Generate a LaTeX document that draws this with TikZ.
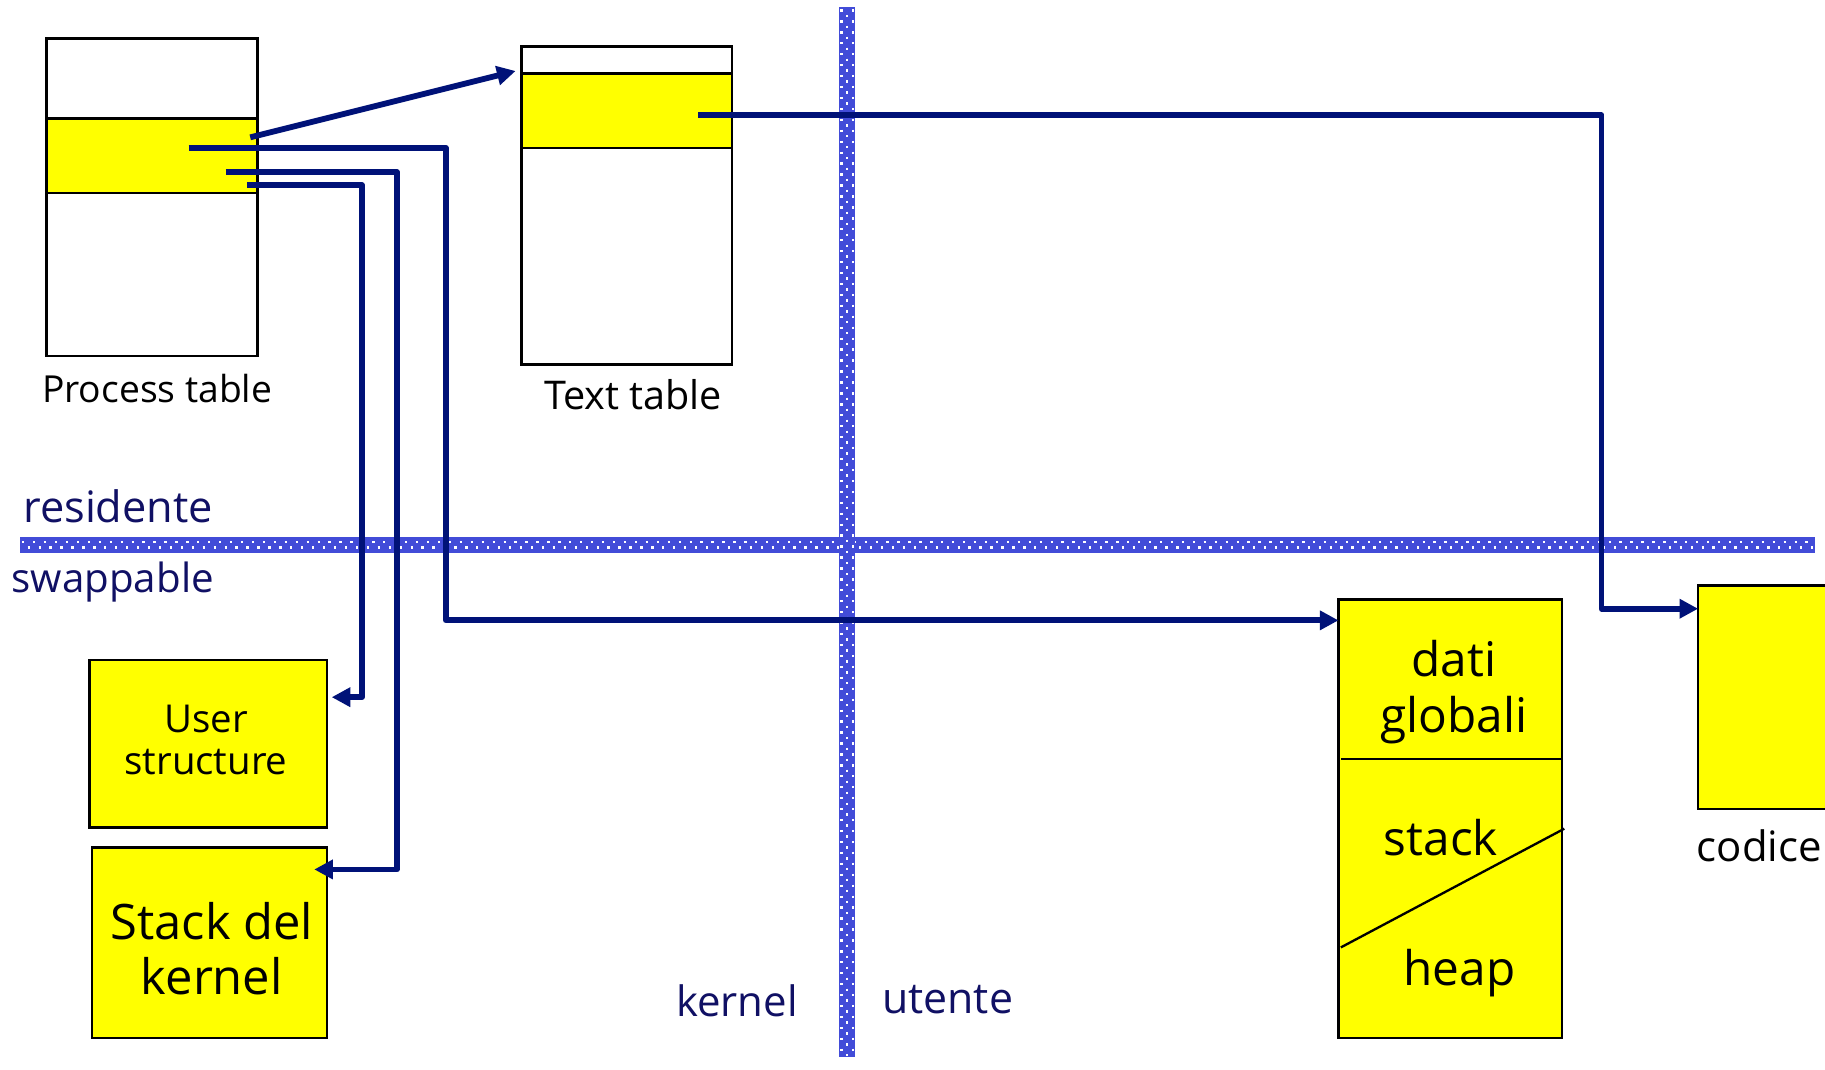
\documentclass[tikz,border=0pt]{standalone}
\usepackage{fontspec}
\setmainfont{Open Sans}
\usetikzlibrary{arrows.meta,fit,calc}
\definecolor{bandblue}{RGB}{66,76,216}
\definecolor{wirenavy}{RGB}{0,18,120}
\definecolor{inknavy}{RGB}{16,16,100}
\definecolor{memyellow}{RGB}{255,255,0}
\newcommand\fsz[2]{\fontsize{#1}{#2}\selectfont}

\begin{document}
\begin{tikzpicture}[x=0.5pt, y=-0.5pt,
  cell/.style={draw=black, line width=1.1pt, inner sep=0pt, outer sep=0pt},
  txt/.style={inner sep=0pt, outer sep=0pt, text=black},
  zone/.style={inner sep=0pt, outer sep=0pt, text=inknavy},
  conn/.style={draw=wirenavy, line width=2.5pt, line join=round,
    -{Triangle[length=8pt,width=8pt]}},
  dots/.style={draw=white, line width=1pt, dash pattern=on 1pt off 3.7pt},
]
\useasboundingbox (0,0) rectangle (1568,919);

% process table with its highlighted entry
\node[cell, fill=white, fit={(40,33)(221,306)}] (ptab) {};
\node[cell, fill=memyellow, fit={(40,102)(221,166)}] (pslot) {};
\node[txt, anchor=base, font=\fsz{16}{19}] (ptabcap) at (135,346) {Process table};

% text table with its highlighted entry
\node[cell, fill=white, fit={(448,40)(629,313)}] (ttab) {};
\node[cell, fill=memyellow, fit={(448,63)(629,127)}] (tslot) {};
\node[txt, anchor=base, font=\fsz{17}{20}] (ttabcap) at (544,352) {Text table};

% kernel-side swappable areas
\node[cell, fill=memyellow, fit={(77,567)(281,711)}] (ustruct) {};
\node[txt, align=center, font=\fsz{16.5}{18}] (ustructtxt) at (177,636) {User\\structure};
\node[cell, fill=memyellow, fit={(79,728)(281,892)}] (kstack) {};
\node[txt, align=center, font=\fsz{21}{23.5}] (kstacktxt) at (182,815) {Stack del\\kernel};

% user data segment
\node[cell, fill=memyellow, fit={(1150,515)(1342,892)}] (seg) {};
\draw[line width=1.1pt] (1152,652) -- (1342,652);
\draw[line width=1pt] (1152,814) -- (1344,712);
\node[txt, align=center, font=\fsz{20.5}{24}] (dati) at (1249,595) {dati\\globali};
\node[txt, anchor=base, font=\fsz{20.5}{24}] (stk) at (1238,735) {stack};
\node[txt, anchor=base, font=\fsz{20.5}{24}] (hp) at (1254,847) {heap};

% code segment, running off the right edge
\node[inner sep=0pt, outer sep=0pt, fill=memyellow, fit={(1459,503)(1568,695)}] (code) {};
\draw[line width=1.1pt] ([xshift=2pt]code.north east) -- (code.north west)
  -- (code.south west) -- ([xshift=2pt]code.south east);
\node[txt, anchor=base west, font=\fsz{18}{21}] (codecap) at (1458,740) {codice};

% dotted boundaries: resident/swappable and kernel/user
\fill[bandblue] (17,461) rectangle (1559,475);
\draw[dots] (19,465.5) -- (1559,465.5);
\draw[dots, dash phase=2.35pt] (19,470.5) -- (1559,470.5);
\fill[bandblue] (721,6) rectangle (735,908);
\draw[dots] (723.1,8) -- (723.1,908);
\draw[dots] (732.9,8) -- (732.9,908);
\draw[dots, dash phase=2.35pt] (728,8) -- (728,908);

\node[zone, anchor=base west, font=\fsz{18.6}{21}] (res) at (20,449) {residente};
\node[zone, anchor=base west, font=\fsz{17.3}{21}] (swp) at (10,509) {swappable};
\node[zone, anchor=base west, font=\fsz{18}{21}] (kern) at (581,873) {kernel};
\node[zone, anchor=base west, font=\fsz{18.4}{21}] (usr) at (758,871) {utente};

% pointers out of the table entries
\coordinate (pa) at (215,118);
\coordinate (pb) at (162,127);
\coordinate (pc) at (194,148);
\coordinate (pd) at (212,159);
\coordinate (te) at (600,99);
\coordinate (jb) at (383,533);
\coordinate (jc) at (341,747);
\coordinate (jd) at (311,599);
\coordinate (je) at (1376,523);

\draw[conn] (pa) -- ($(ttab.north west)+(-5,21)$);
\draw[conn] (pb) -| (jb) -- (jb -| seg.west);
\draw[conn] (pc) -| (jc) -- ($(jc -| kstack.east)+(-11,0)$);
\draw[conn] (pd) -| (jd) -- ($(jd -| ustruct.east)+(4,0)$);
\draw[conn] (te) -| (je) -- (je -| code.west);
\end{tikzpicture}
\end{document}
